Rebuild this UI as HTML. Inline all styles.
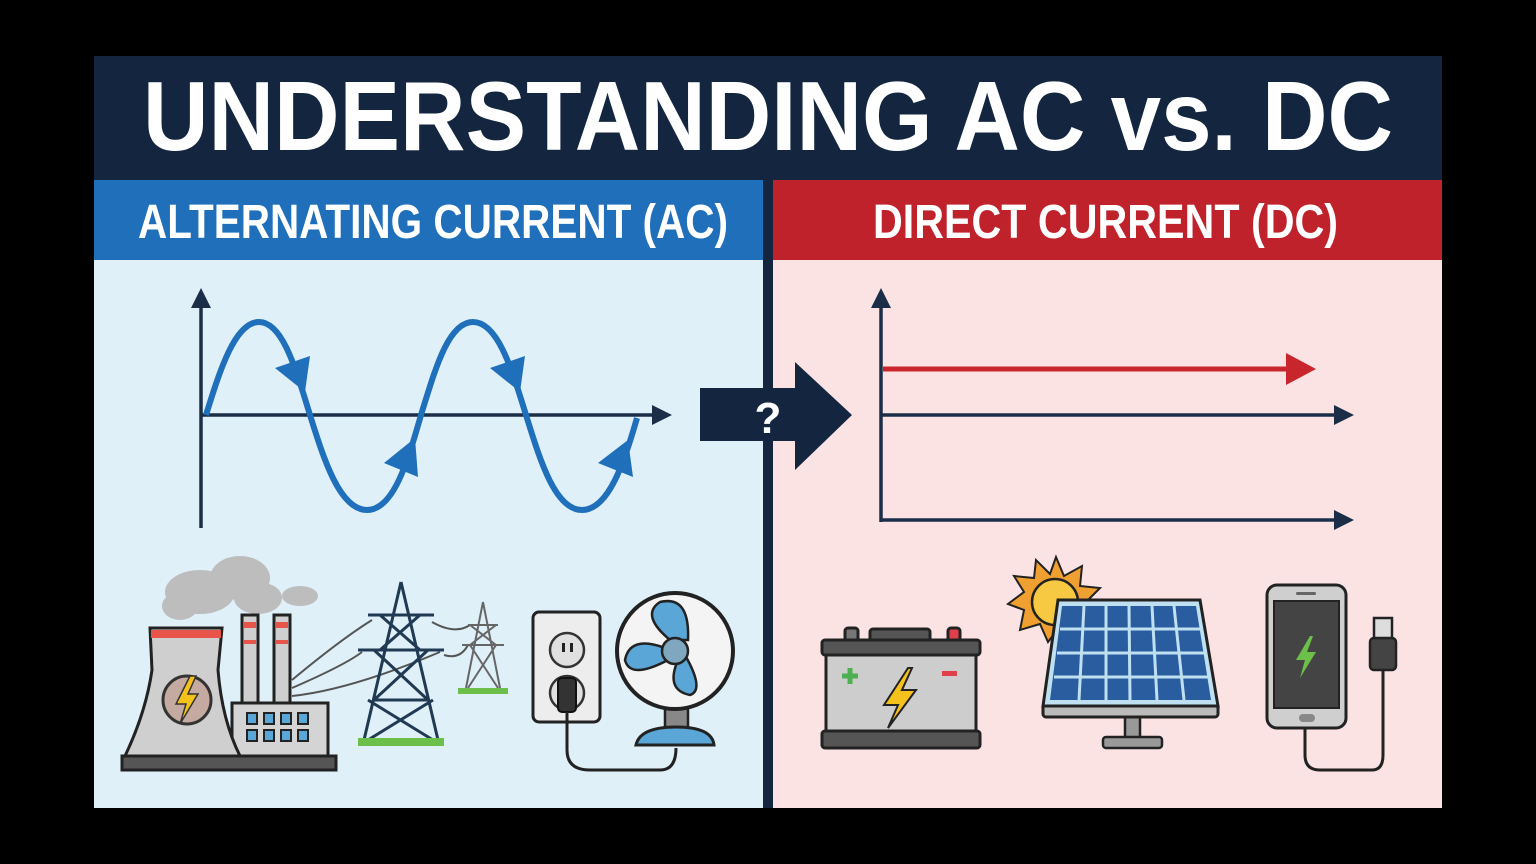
<!DOCTYPE html>
<html><head><meta charset="utf-8"><style>
html,body{margin:0;padding:0;background:#000;}
svg{display:block;}
text{font-family:"Liberation Sans",sans-serif;font-weight:bold;}
</style></head><body>
<svg width="1536" height="864" viewBox="0 0 1536 864" xmlns="http://www.w3.org/2000/svg">
<rect width="1536" height="864" fill="#000"/>
<rect x="94" y="56" width="1348" height="124" fill="#14263f"/>
<text x="143" y="150" font-size="98" fill="#fff" textLength="1250" lengthAdjust="spacingAndGlyphs">UNDERSTANDING AC vs. DC</text>
<rect x="94" y="260" width="669" height="548" fill="#dff0f9"/>
<rect x="773" y="260" width="669" height="548" fill="#fbe3e4"/>
<rect x="94" y="180" width="669" height="80" fill="#1f6fba"/>
<rect x="773" y="180" width="669" height="80" fill="#c0222c"/>
<rect x="763" y="180" width="10" height="628" fill="#14263f"/>
<text x="138" y="238" font-size="48" fill="#fff" textLength="590" lengthAdjust="spacingAndGlyphs">ALTERNATING CURRENT (AC)</text>
<text x="873" y="238" font-size="48" fill="#fff" textLength="465" lengthAdjust="spacingAndGlyphs">DIRECT CURRENT (DC)</text>

<!-- AC graph -->
<g stroke="#1a2e48" stroke-width="3.5" fill="none">
<line x1="201" y1="528" x2="201" y2="305"/>
<line x1="201" y1="415" x2="655" y2="415"/>
</g>
<polygon points="201,288 191,308 211,308" fill="#1a2e48"/>
<polygon points="672,415 652,405 652,425" fill="#1a2e48"/>
<path d="M206,415 C220,370 235,322 259,322 C283,322 296,370 310,415 C324,460 340,510 367,510 C394,510 408,460 421,415 C435,370 448,322 473,322 C498,322 512,370 526,415 C540,460 555,510 582,510 C609,510 625,460 637,418" stroke="#1f6fba" stroke-width="6" fill="none"/>
<g fill="#1f6fba">
<polygon points="275,368 310,356 305,392"/>
<polygon points="384,463 415,438 418,477"/>
<polygon points="490,368 525,356 520,392"/>
<polygon points="598,463 628,440 633,477"/>
</g>

<!-- center arrow -->
<polygon points="700,388 795,388 795,362 852,415 795,470 795,441 700,441" fill="#14263f"/>
<text x="768" y="433" font-size="44" fill="#fff" text-anchor="middle">?</text>

<!-- DC graph -->
<g stroke="#1a2e48" stroke-width="3.5" fill="none">
<line x1="881" y1="522" x2="881" y2="305"/>
<line x1="881" y1="415" x2="1338" y2="415"/>
<line x1="881" y1="520" x2="1338" y2="520"/>
</g>
<polygon points="881,288 871,308 891,308" fill="#1a2e48"/>
<polygon points="1354,415 1334,405 1334,425" fill="#1a2e48"/>
<polygon points="1354,520 1334,510 1334,530" fill="#1a2e48"/>
<line x1="883" y1="369" x2="1292" y2="369" stroke="#c9252d" stroke-width="5"/>
<polygon points="1316,369 1286,353 1286,385" fill="#c9252d"/>

<!-- power plant -->
<g fill="#bdbdbd">
<ellipse cx="200" cy="592" rx="35" ry="22"/><ellipse cx="240" cy="578" rx="30" ry="22"/><ellipse cx="180" cy="606" rx="18" ry="14"/><ellipse cx="258" cy="598" rx="24" ry="16"/>
<ellipse cx="300" cy="596" rx="18" ry="10"/>
</g>
<g stroke="#222" stroke-width="3">
<rect x="122" y="756" width="214" height="14" fill="#555"/>
<rect x="232" y="703" width="96" height="53" fill="#d4d4d4"/>
<rect x="242" y="615" width="16" height="88" fill="#cfcfcf"/>
<rect x="274" y="615" width="16" height="88" fill="#cfcfcf"/>
<path d="M150,628 L222,628 L218,670 Q222,720 240,756 L125,756 Q146,712 152,670 Z" fill="#cfcfcf"/>
</g>
<rect x="151" y="630" width="70" height="8" fill="#e8534a"/>
<rect x="244" y="622" width="12" height="6" fill="#e8534a"/><rect x="276" y="622" width="12" height="6" fill="#e8534a"/>
<rect x="244" y="640" width="12" height="4" fill="#e8534a"/><rect x="276" y="640" width="12" height="4" fill="#e8534a"/>
<circle cx="187" cy="700" r="24" fill="#c4aaa0" stroke="#333" stroke-width="3"/>
<polygon points="190,676 176,704 186,704 180,724 198,694 188,694 196,676" fill="#f5c21b" stroke="#333" stroke-width="1.5"/>
<g fill="#5aa6d6" stroke="#222" stroke-width="2">
<rect x="247" y="713" width="10" height="11"/><rect x="264" y="713" width="10" height="11"/><rect x="281" y="713" width="10" height="11"/><rect x="298" y="713" width="10" height="11"/>
<rect x="247" y="730" width="10" height="11"/><rect x="264" y="730" width="10" height="11"/><rect x="281" y="730" width="10" height="11"/><rect x="298" y="730" width="10" height="11"/>
</g>
<g stroke="#555" stroke-width="2" fill="none">
<path d="M292,680 Q340,640 372,620"/><path d="M292,688 Q345,665 362,652"/><path d="M292,696 Q350,690 440,652"/>
<path d="M432,622 Q455,635 470,625"/><path d="M444,655 Q460,660 468,645"/>
</g>
<!-- towers -->
<g stroke="#1f3a52" stroke-width="3" fill="none">
<path d="M401,582 L364,740 M401,582 L438,740 M368,615 L434,615 M358,650 L444,650 M380,615 L420,650 M420,615 L380,650 M374,650 L428,700 M428,650 L374,700 M368,700 L433,740 M433,700 L368,740 M374,700 L428,700"/>
</g>
<rect x="358" y="738" width="86" height="8" fill="#6cbf4a"/>
<g stroke="#666" stroke-width="2" fill="none">
<path d="M483,602 L466,688 M483,602 L500,688 M468,625 L498,625 M462,645 L504,645 M470,625 L496,645 M496,625 L470,645 M470,645 L498,688 M496,645 L468,688"/>
</g>
<rect x="458" y="688" width="50" height="6" fill="#6cbf4a"/>
<!-- outlet -->
<rect x="533" y="612" width="67" height="110" rx="6" fill="#ededed" stroke="#222" stroke-width="3"/>
<circle cx="567" cy="650" r="17" fill="#e0e0e0" stroke="#333" stroke-width="2.5"/>
<circle cx="567" cy="693" r="17" fill="#e0e0e0" stroke="#333" stroke-width="2.5"/>
<rect x="562" y="643" width="3" height="9" fill="#222"/><rect x="570" y="643" width="3" height="9" fill="#222"/>
<rect x="558" y="678" width="18" height="34" rx="4" fill="#333" stroke="#111" stroke-width="2"/>
<path d="M567,712 L567,750 Q567,770 590,770 L660,770 Q676,770 676,748" stroke="#222" stroke-width="3" fill="none"/>
<!-- fan -->
<rect x="665" y="708" width="23" height="24" fill="#888" stroke="#222" stroke-width="2.5"/>
<path d="M636,745 Q640,727 676,727 Q712,727 714,745 Z" fill="#5aa6d6" stroke="#222" stroke-width="3"/>
<circle cx="675" cy="651" r="58" fill="#f4f4f4" stroke="#222" stroke-width="4"/>
<g fill="#5aa6d6" stroke="#222" stroke-width="2.5">
<path d="M670,640 Q640,615 660,602 Q690,595 688,640 Z"/>
<path d="M668,660 Q630,680 625,660 Q630,635 665,648 Z"/>
<path d="M685,655 Q705,690 690,695 Q665,690 678,660 Z"/>
</g>
<circle cx="675" cy="651" r="13" fill="#7fa7bf" stroke="#222" stroke-width="2.5"/>

<!-- battery -->
<g stroke="#222" stroke-width="3">
<rect x="845" y="628" width="13" height="16" rx="3" fill="#777"/>
<rect x="948" y="628" width="12" height="16" rx="3" fill="#e0404a"/>
<rect x="870" y="629" width="60" height="14" rx="3" fill="#555"/>
<rect x="826" y="650" width="150" height="86" fill="#cdcdcd"/>
<rect x="822" y="640" width="158" height="15" rx="3" fill="#555"/>
<rect x="822" y="731" width="158" height="17" rx="3" fill="#555"/>
</g>
<path d="M850,668 V684 M842,676 H858" stroke="#4caf50" stroke-width="5"/>
<rect x="942" y="671" width="15" height="5" fill="#e0404a"/>
<polygon points="908,668 884,705 898,705 888,728 916,690 902,690 912,668" fill="#f5c21b" stroke="#222" stroke-width="2"/>
<!-- sun -->
<g fill="#f0a030" stroke="#222" stroke-width="2">
<polygon points="1056,557 1064,576 1082,566 1080,586 1100,588 1086,602 1100,616 1080,618 1076,638 1060,626 1048,642 1040,624 1020,630 1024,610 1008,604 1024,592 1014,576 1034,578 1036,560 1050,574"/>
</g>
<circle cx="1055" cy="602" r="23" fill="#f7c842" stroke="#222" stroke-width="2.5"/>
<!-- solar panel -->
<rect x="1125" y="716" width="15" height="24" fill="#999" stroke="#222" stroke-width="2.5"/>
<rect x="1103" y="737" width="59" height="11" rx="3" fill="#999" stroke="#222" stroke-width="2.5"/>
<rect x="1043" y="704" width="175" height="13" rx="3" fill="#bbb" stroke="#222" stroke-width="3"/>
<polygon points="1058,600 1200,600 1218,706 1043,706" fill="#bfe0f0" stroke="#222" stroke-width="3"/>
<polygon points="1062,606 1196,606 1211,700 1050,700" fill="#2a5da0"/>
<g stroke="#bfe0f0" stroke-width="3">
<line x1="1060" y1="629" x2="1200" y2="629"/><line x1="1057" y1="653" x2="1204" y2="653"/><line x1="1054" y1="677" x2="1208" y2="677"/>
<line x1="1084" y1="606" x2="1079" y2="700"/><line x1="1106" y1="606" x2="1106" y2="700"/><line x1="1129" y1="606" x2="1130" y2="700"/><line x1="1152" y1="606" x2="1157" y2="700"/><line x1="1174" y1="606" x2="1184" y2="700"/>
</g>
<!-- phone -->
<rect x="1267" y="585" width="79" height="143" rx="10" fill="#cfcfcf" stroke="#222" stroke-width="3"/>
<rect x="1274" y="601" width="65" height="107" fill="#444" stroke="#222" stroke-width="2"/>
<rect x="1296" y="592" width="20" height="3" rx="1.5" fill="#666"/>
<rect x="1299" y="714" width="16" height="8" rx="4" fill="#888"/>
<polygon points="1310,636 1296,660 1305,660 1300,678 1316,652 1307,652 1313,636" fill="#6cc04a"/>
<path d="M1305,728 V755 Q1305,770 1320,770 L1372,770 Q1383,770 1383,755 V668" stroke="#222" stroke-width="3" fill="none"/>
<rect x="1370" y="638" width="26" height="32" rx="4" fill="#444" stroke="#222" stroke-width="2.5"/>
<rect x="1374" y="618" width="18" height="20" fill="#ddd" stroke="#222" stroke-width="2.5"/>
</svg>
</body></html>
